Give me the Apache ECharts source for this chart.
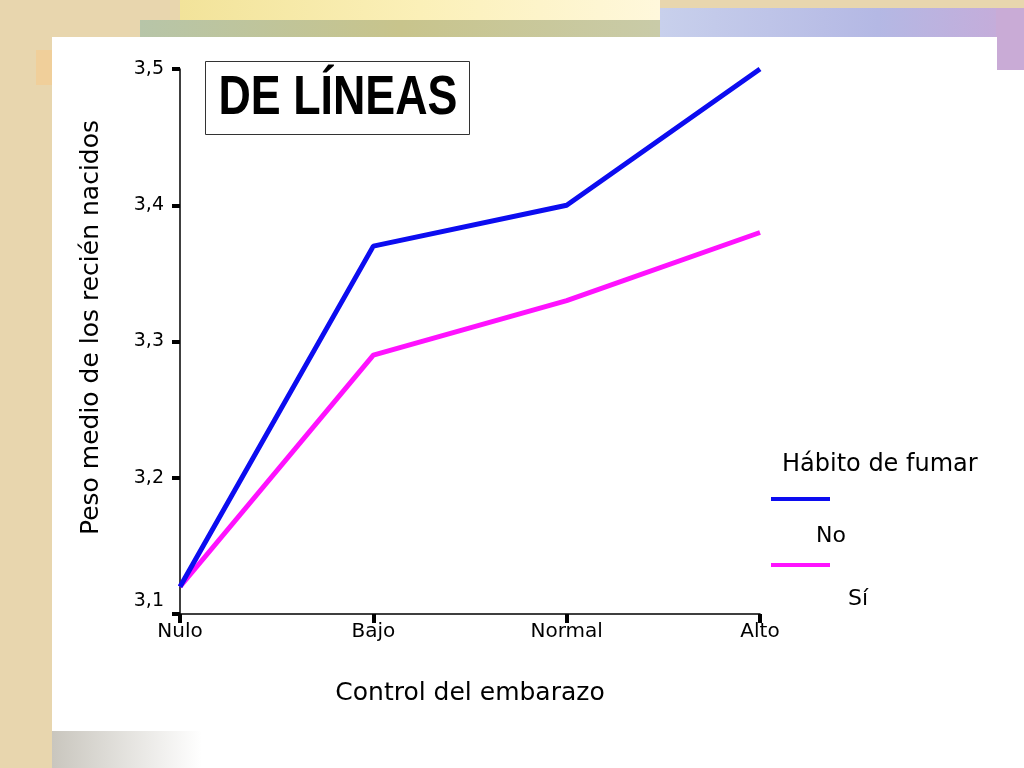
<!DOCTYPE html>
<html>
<head>
<meta charset="utf-8">
<script src="https://cdn.jsdelivr.net/npm/echarts@6/dist/echarts.min.js"></script>
<style>html,body{margin:0;padding:0;background:#e8d6ae;}#c{width:1024px;height:768px;}</style>
</head>
<body>
<div id="c"></div>
<script>
var categories = ['Nulo', 'Bajo', 'Normal', 'Alto'];
var seriesNames = ['No', 'Sí'];
var valuesNo = [3.12, 3.37, 3.40, 3.50];
var valuesSi = [3.12, 3.29, 3.33, 3.38];
var yMin = 3.1, yMax = 3.5, yStep = 0.1;
var titleText = 'DE LÍNEAS';
var xName = 'Control del embarazo';
var yName = 'Peso medio de los recién nacidos';
var legendTitle = 'Hábito de fumar';

var chart = echarts.init(document.getElementById('c'), null, {renderer: 'canvas'});
var font = '"DejaVu Sans", sans-serif';
var option = {
  backgroundColor: '#e8d6ae',
  animation: false,
  grid: {left: 180, right: 264, top: 69, bottom: 154},
  legend: {
    orient: 'vertical', left: 766, top: 492,
    itemWidth: 59, itemHeight: 4, itemGap: 62, icon: 'rect',
    data: seriesNames,
    formatter: function () { return ''; },
    textStyle: {fontSize: 1}
  },
  xAxis: {
    type: 'category', data: categories, boundaryGap: false,
    name: xName, nameLocation: 'middle', nameGap: 67,
    nameTextStyle: {fontFamily: font, fontSize: 25, color: '#000'},
    axisLine: {lineStyle: {color: '#000', width: 1.5}},
    axisTick: {show: true, alignWithLabel: true, length: 9, lineStyle: {color: '#000', width: 4}},
    axisLabel: {fontFamily: font, fontSize: 20, color: '#000', margin: 8}
  },
  yAxis: {
    type: 'value', min: yMin, max: yMax, interval: yStep,
    name: yName, nameLocation: 'middle', nameGap: 76,
    nameTextStyle: {fontFamily: font, fontSize: 25, color: '#000', padding: [0, 0, 0, 28]},
    splitLine: {show: false},
    axisLine: {show: true, lineStyle: {color: '#000', width: 1.5}},
    axisTick: {show: true, length: 8, lineStyle: {color: '#000', width: 4}},
    axisLabel: {
      fontFamily: font, fontSize: 19, color: '#000', margin: 16,
      formatter: function (v) {
        var s = v.toFixed(1).replace('.', ',');
        return Math.abs(v - yMin) < 1e-6 ? '{low|' + s + '}' : s;
      },
      rich: {low: {fontFamily: font, fontSize: 19, color: '#000', padding: [0, 0, 26, 0]}}
    }
  },
  series: [
    {name: seriesNames[1], type: 'line', data: valuesSi, showSymbol: false, symbol: 'none',
      lineStyle: {color: '#ff12ff', width: 5}, itemStyle: {color: '#ff12ff'}, z: 2},
    {name: seriesNames[0], type: 'line', data: valuesNo, showSymbol: false, symbol: 'none',
      lineStyle: {color: '#0c0cf0', width: 5}, itemStyle: {color: '#0c0cf0'}, z: 3}
  ],
  graphic: {elements: [
    {type: 'rect', z: -10, silent: true, shape: {x: 180, y: 0, width: 480, height: 22},
      style: {fill: new echarts.graphic.LinearGradient(0, 0, 1, 0, [{offset: 0, color: '#f2e39a'}, {offset: 0.5, color: '#fbf0b8'}, {offset: 1, color: '#fff8dc'}])}},
    {type: 'rect', z: -10, silent: true, shape: {x: 140, y: 20, width: 520, height: 18},
      style: {fill: new echarts.graphic.LinearGradient(0, 0, 1, 0, [{offset: 0, color: '#b7c5a8'}, {offset: 0.5, color: '#c8c48c'}, {offset: 1, color: '#c9cba8'}])}},
    {type: 'rect', z: -10, silent: true, shape: {x: 660, y: 8, width: 364, height: 30},
      style: {fill: new echarts.graphic.LinearGradient(0, 0, 1, 0, [{offset: 0, color: '#c8d0ec'}, {offset: 0.6, color: '#b4b8e4'}, {offset: 1, color: '#c8aad8'}])}},
    {type: 'rect', z: -10, silent: true, shape: {x: 996, y: 8, width: 28, height: 62},
      style: {fill: '#c9abd6'}},
    {type: 'rect', z: -10, silent: true, shape: {x: 36, y: 50, width: 16, height: 35},
      style: {fill: '#f0cf9a'}},
    {type: 'rect', z: -9, silent: true, shape: {x: 52, y: 37, width: 945, height: 731},
      style: {fill: '#ffffff'}},
    {type: 'rect', z: -9, silent: true, shape: {x: 997, y: 70, width: 27, height: 698},
      style: {fill: '#ffffff'}},
    {type: 'rect', z: -8, silent: true, shape: {x: 52, y: 731, width: 150, height: 37},
      style: {fill: new echarts.graphic.LinearGradient(0, 0, 1, 0, [{offset: 0, color: '#c9c6be'}, {offset: 1, color: '#ffffff'}])}},
    {type: 'rect', z: 5, silent: true, shape: {x: 205.5, y: 61.5, width: 264, height: 73},
      style: {fill: '#fff', stroke: '#333', lineWidth: 1}},
    {type: 'text', z: 6, x: 338, y: 99, scaleX: 0.8,
      style: {text: titleText, x: 0, y: 0, align: 'center', verticalAlign: 'middle',
        font: 'bold 56px "Liberation Sans", Arial, sans-serif', fill: '#000'}},
    {type: 'text', left: 782, top: 453, z: 5,
      style: {text: legendTitle, font: '24px "DejaVu Sans", sans-serif', fill: '#000'}},
    {type: 'text', left: 816, top: 525, z: 5,
      style: {text: seriesNames[0], font: '22px "DejaVu Sans", sans-serif', fill: '#000'}},
    {type: 'text', left: 848, top: 588, z: 5,
      style: {text: seriesNames[1], font: '22px "DejaVu Sans", sans-serif', fill: '#000'}}
  ]}
};
chart.setOption(option);
</script>
</body>
</html>
